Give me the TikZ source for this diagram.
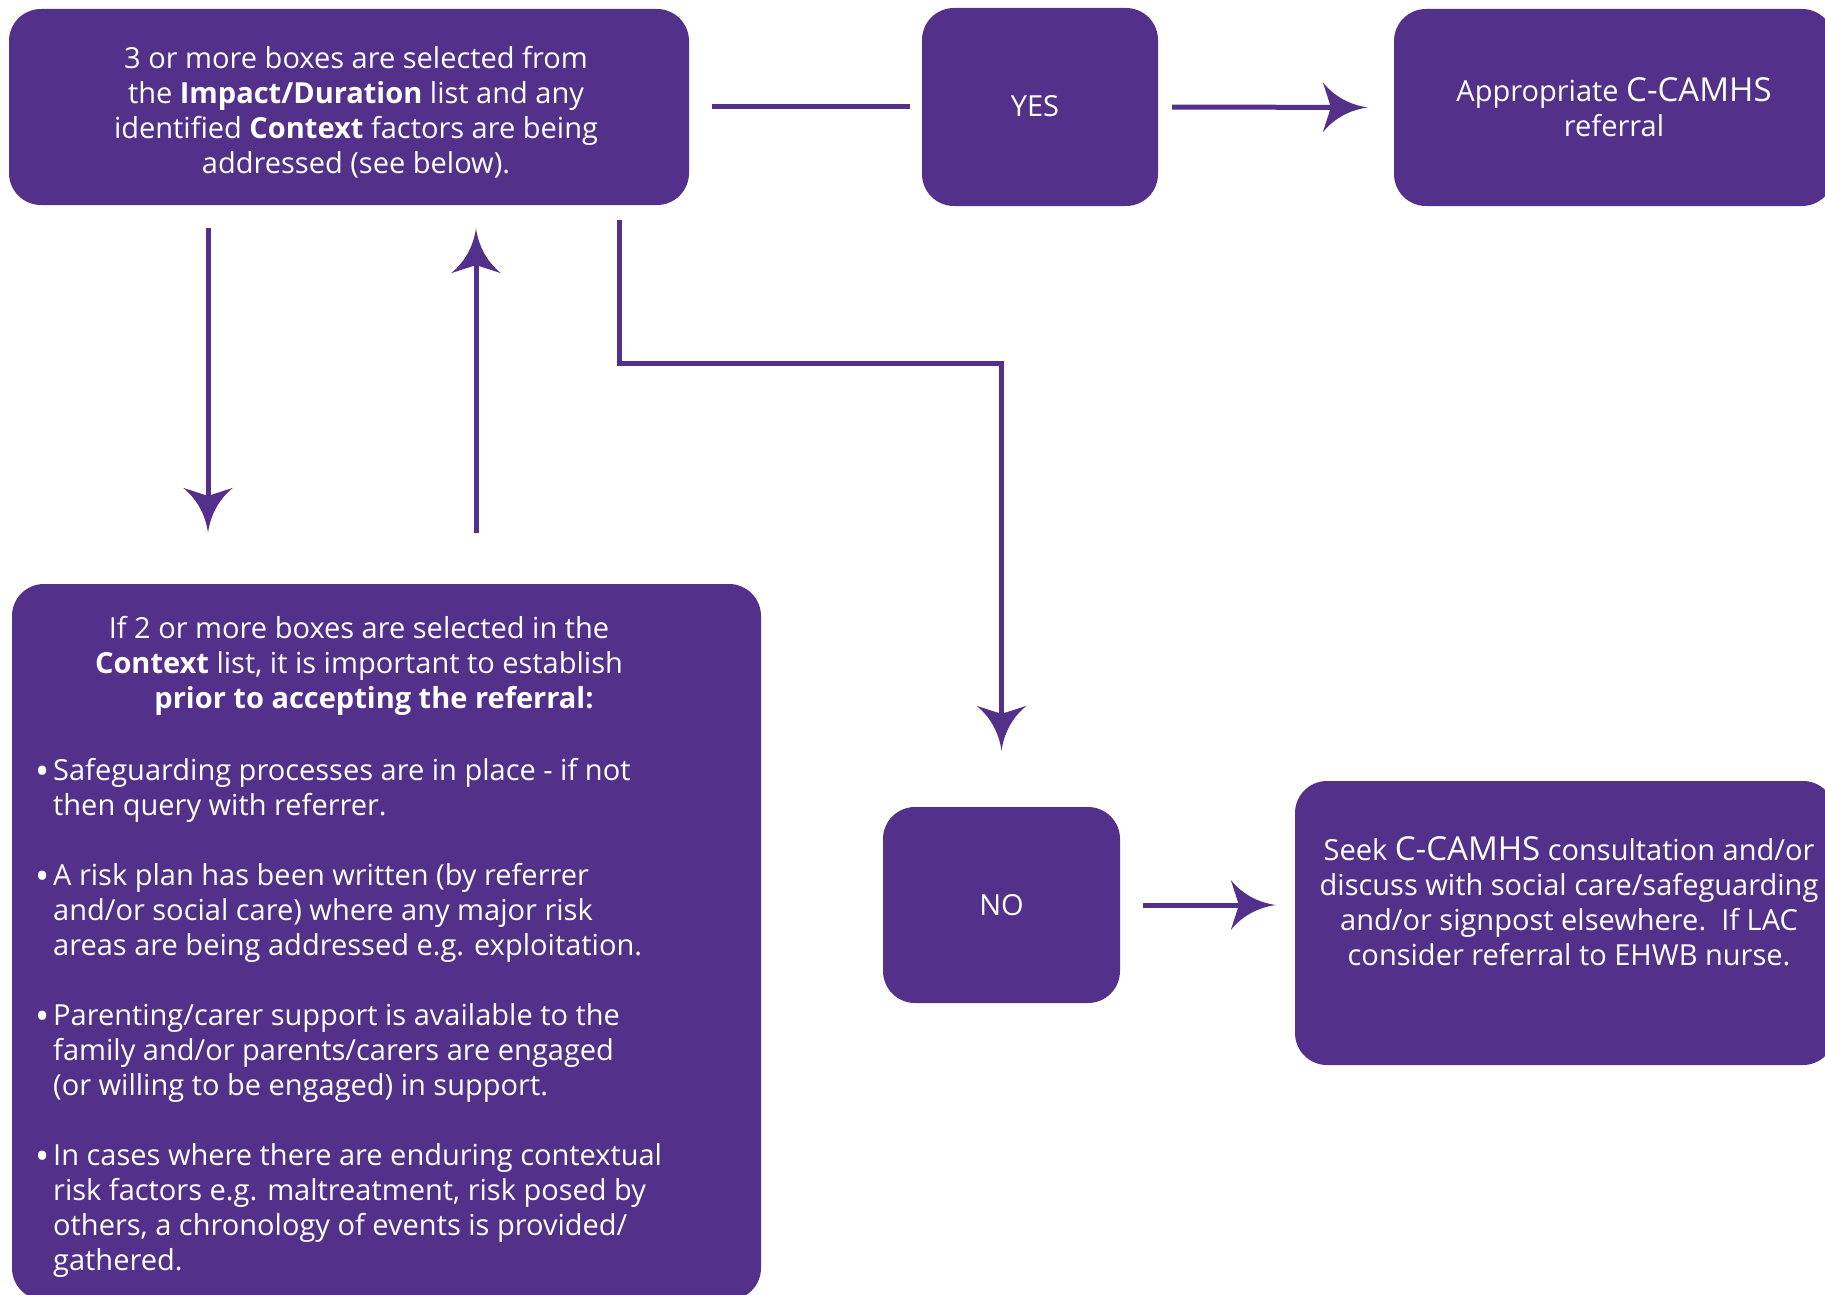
\documentclass[tikz,border=0pt]{standalone}
\usepackage{fontspec}
\setmainfont{Open Sans}
\usetikzlibrary{arrows.meta}
\definecolor{pp}{RGB}{83,49,139}
\pgfdeclarearrow{
  name = Swoop,
  defaults = { length = 45pt, width = 50pt },
  setup code = {
    \pgfarrowssettipend{0pt}
    \pgfarrowssetlineend{-.5\pgfarrowlength}
    \pgfarrowssetbackend{-\pgfarrowlength}
    \pgfarrowsupperhullpoint{-\pgfarrowlength}{.5\pgfarrowwidth}
    \pgfarrowsupperhullpoint{0pt}{0pt}
    \pgfarrowssavethe\pgfarrowlength
    \pgfarrowssavethe\pgfarrowwidth
  },
  drawing code = {
    \pgfpathmoveto{\pgfpointorigin}
    \pgfpathcurveto{\pgfpoint{-.4\pgfarrowlength}{.05\pgfarrowwidth}}{\pgfpoint{-.75\pgfarrowlength}{.22\pgfarrowwidth}}{\pgfpoint{-\pgfarrowlength}{.5\pgfarrowwidth}}
    \pgfpathlineto{\pgfpoint{-.82\pgfarrowlength}{0pt}}
    \pgfpathlineto{\pgfpoint{-\pgfarrowlength}{-.5\pgfarrowwidth}}
    \pgfpathcurveto{\pgfpoint{-.75\pgfarrowlength}{-.22\pgfarrowwidth}}{\pgfpoint{-.4\pgfarrowlength}{-.05\pgfarrowwidth}}{\pgfpointorigin}
    \pgfpathclose
    \pgfusepathqfill
  },
  parameters = { \the\pgfarrowlength,\the\pgfarrowwidth },
}
\newcommand\camh{{\fontsize{33}{35}\selectfont C-CAMHS}}
\newcommand\bul{\makebox[17pt][l]{\hspace*{-1pt}\raisebox{-3.5pt}{\scalebox{1.3}{\textbullet}}}}
\tikzset{
  box/.style={fill=pp, rounded corners=32pt, inner sep=0pt, text=white, align=center, font=\fontsize{29}{35}\selectfont},
  txt/.style={text=white, inner sep=0pt, font=\fontsize{29}{35}\selectfont},
  conn/.style={draw=pp, line width=5pt, line join=miter},
  arr/.style={conn, -{Swoop}},
}
\begin{document}
\begin{tikzpicture}[x=1pt,y=-1pt]
\useasboundingbox (0,0) rectangle (1825,1295);
\clip (0,0) rectangle (1825,1295);
% boxes
\node[box, minimum width=680pt, minimum height=196pt] (A) at (349,107) {};
\node[box, minimum width=236pt, minimum height=198pt] (Y) at (1040,107) {};
\node[box, minimum width=440pt, minimum height=197pt] (P) at (1614,107.5) {Appropriate \camh\\referral};
\node[box, minimum width=749pt, minimum height=716pt] (C) at (386.5,942) {};
\node[box, minimum width=237pt, minimum height=196pt] (N) at (1001.5,905) {NO};
\node[box, minimum width=540pt, minimum height=284pt] (S) at (1565,923) {};
% texts
\node[txt, align=center] (At) at (356,112)
  {3 or more boxes are selected from\\the \textbf{Impact/Duration} list and any\\identified \textbf{Context} factors are being\\addressed (see below).};
\node[txt] (Yt) at (1035,106) {YES};
\node[txt, align=center] (Ct) at (359,666)
  {If 2 or more boxes are selected in the\\\textbf{Context} list, it is important to establish\\\hspace*{30pt}\textbf{prior to accepting the referral:}};
\node[txt, align=left, anchor=west] (Cb) at (36,1018)
  {\bul Safeguarding processes are in place - if not\\
   \hspace*{17pt}then query with referrer.\\[35pt]
   \bul A risk plan has been written (by referrer\\
   \hspace*{17pt}and/or social care) where any major risk\\
   \hspace*{17pt}areas are being addressed e.g. exploitation.\\[35pt]
   \bul Parenting/carer support is available to the\\
   \hspace*{17pt}family and/or parents/carers are engaged\\
   \hspace*{17pt}(or willing to be engaged) in support.\\[35pt]
   \bul In cases where there are enduring contextual\\
   \hspace*{17pt}risk factors e.g. maltreatment, risk posed by\\
   \hspace*{17pt}others, a chronology of events is provided/\\
   \hspace*{17pt}gathered.};
\node[txt, align=center] (St) at (1569,901.5)
  {Seek \camh{} consultation and/or\\discuss with social care/safeguarding\\and/or signpost elsewhere.\ \ If LAC\\consider referral to EHWB nurse.};
% connectors
\draw[conn, shorten <=23pt, shorten >=12pt] (A.east) -- (Y.west);
\draw[arr, shorten <=14pt, shorten >=26pt] (Y.east) -- (P.west);
\draw[arr, shorten <=23pt, shorten >=51pt] ([xshift=-141pt]A.south) -- ([xshift=-141pt]A.south |- C.north);
\draw[arr, shorten <=51pt, shorten >=23pt] ([xshift=127pt]A.south |- C.north) -- ([xshift=127pt]A.south);
\draw[arr, shorten <=15pt, shorten >=56pt] ([xshift=270pt]A.south) -- ++(0,158) -| (N.north);
\draw[arr, shorten <=23pt, shorten >=19pt] (N.east) -- (N.east -| S.west);
\end{tikzpicture}
\end{document}
